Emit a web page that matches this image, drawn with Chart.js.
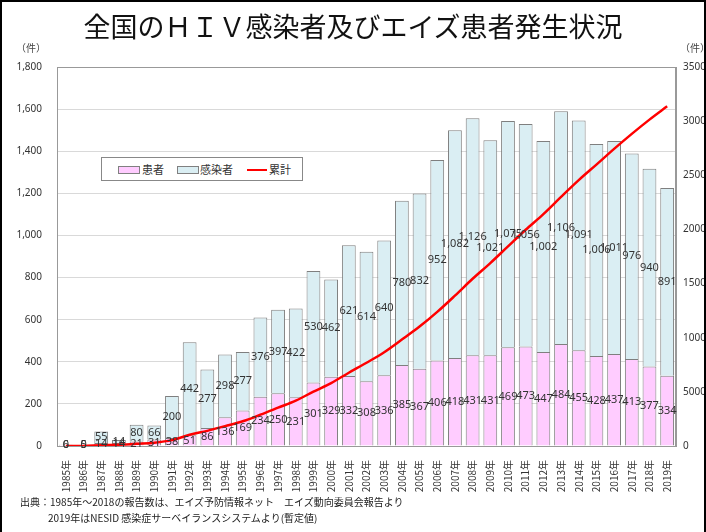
<!DOCTYPE html>
<html>
<head>
<meta charset="utf-8">
<script src="https://cdn.jsdelivr.net/npm/chart.js@4/dist/chart.umd.min.js"></script>
<style>
body { margin: 0; background: #fff; font-family: "Noto Sans CJK JP", sans-serif; }
#wrap { position: relative; width: 706px; height: 532px; overflow: hidden; }
#frame { position: absolute; left: 0; top: 0; width: 706px; height: 560px; box-sizing: border-box; border: 2px solid #000; pointer-events: none; }
canvas { position: absolute; left: 0; top: 0; }
#title { position: absolute; left: 0; top: 8px; width: 706px; text-align: center; font-size: 27px; line-height: 36px; color: #111; }
.unit { position: absolute; top: 40px; font-size: 10px; color: #444; }
#legend { position: absolute; left: 101px; top: 157px; width: 200px; height: 22px; border: 1px solid #888; background: #fff; font-size: 11px; color: #333; }
#legend span { position: absolute; top: 3px; line-height: 16px; }
.sw { position: absolute; top: 8px; width: 20px; height: 6px; border: 1px solid #808080; }
#note { position: absolute; left: 20px; top: 494px; font-size: 10px; line-height: 16px; color: #222; }
</style>
</head>
<body>
<div id="wrap">
  <canvas id="chart" width="706" height="532"></canvas>
  <div id="title">全国のＨＩＶ感染者及びエイズ患者発生状況</div>
  <div class="unit" style="left:16px">（件）</div>
  <div class="unit" style="left:680px">（件）</div>
  <div id="legend">
    <div class="sw" style="left:16px;background:#ffccff"></div><span style="left:40px">患者</span>
    <div class="sw" style="left:75px;background:#daeef3"></div><span style="left:98px">感染者</span>
    <div style="position:absolute;left:145px;top:11px;width:20px;height:2px;background:#ff0000"></div><span style="left:167px">累計</span>
  </div>
  <div id="note">出典：1985年～2018の報告数は、エイズ予防情報ネット　エイズ動向委員会報告より<br><span style="padding-left:28px">2019年はNESID 感染症サーベイランスシステムより(暫定値)</span></div>
  <div id="frame"></div>
</div>
<script>
var years = ['1985年', '1986年', '1987年', '1988年', '1989年', '1990年', '1991年', '1992年', '1993年', '1994年',
  '1995年', '1996年', '1997年', '1998年', '1999年', '2000年', '2001年', '2002年', '2003年', '2004年',
  '2005年', '2006年', '2007年', '2008年', '2009年', '2010年', '2011年', '2012年', '2013年', '2014年',
  '2015年', '2016年', '2017年', '2018年', '2019年'];
// 患者
var patients = [6, 5, 14, 14, 21, 31, 38, 51, 86, 136, 169, 234, 250, 231, 301, 329, 332, 308, 336, 385,
  367, 406, 418, 431, 431, 469, 473, 447, 484, 455, 428, 437, 413, 377, 334];
// 感染者
var infected = [0, 0, 55, 14, 80, 66, 200, 442, 277, 298, 277, 376, 397, 422, 530, 462, 621, 614, 640, 780,
  832, 952, 1082, 1126, 1021, 1075, 1056, 1002, 1106, 1091, 1006, 1011, 976, 940, 891];
// 累計
var cumulative = [6, 11, 80, 108, 209, 306, 544, 1037, 1400, 1834, 2280, 2890, 3537, 4190, 5021, 5812, 6765,
  7687, 8663, 9828, 11027, 12385, 13885, 15442, 16894, 18438, 19967, 21416, 23006, 24552, 25986, 27434,
  28823, 30140, 31365];
var leftTicks = [0, 1800, 200];
var rightTicks = [0, 35000, 5000];

var frameBox = {
  id: 'frameBox',
  beforeDatasetsDraw: function (chart) {
    var a = chart.chartArea, ctx = chart.ctx;
    ctx.save();
    ctx.strokeStyle = '#999';
    ctx.lineWidth = 1;
    ctx.strokeRect(a.left + 0.5, a.top + 0.5, a.right - a.left - 1, a.bottom - a.top);
    ctx.restore();
  }
};

var barLabels = {
  id: 'barLabels',
  afterDatasetsDraw: function (chart) {
    var ctx = chart.ctx;
    ctx.save();
    ctx.font = '11px "Noto Sans", sans-serif';
    ctx.fillStyle = '#333';
    ctx.textAlign = 'center';
    ctx.textBaseline = 'middle';
    [0, 1].forEach(function (i) {
      chart.getDatasetMeta(i).data.forEach(function (bar, j) {
        var v = chart.data.datasets[i].data[j];
        ctx.fillText(v.toLocaleString('en-US'), bar.x, (bar.y + bar.base) / 2);
      });
    });
    ctx.restore();
  }
};

new Chart(document.getElementById('chart'), {
  type: 'bar',
  data: {
    labels: years,
    datasets: [{
      label: '患者',
      data: patients,
      backgroundColor: '#ffccff',
      borderColor: '#7f7f7f',
      borderWidth: 1,
      barPercentage: 0.78,
      categoryPercentage: 1,
      order: 1
    }, {
      label: '感染者',
      data: infected,
      backgroundColor: '#daeef3',
      borderColor: '#7f7f7f',
      borderWidth: 1,
      barPercentage: 0.78,
      categoryPercentage: 1,
      order: 1
    }, {
      type: 'line',
      label: '累計',
      data: cumulative,
      yAxisID: 'y2',
      borderColor: '#ff0000',
      borderWidth: 2.5,
      pointRadius: 0,
      tension: 0.4,
      cubicInterpolationMode: 'monotone',
      order: 0
    }]
  },
  options: {
    responsive: false,
    animation: false,
    locale: 'en-US',
    layout: { padding: { top: 67, left: 0, right: 0, bottom: 0 } },
    plugins: { legend: { display: false }, tooltip: { enabled: false } },
    scales: {
      x: {
        stacked: true,
        grid: { display: false },
        border: { color: '#808080' },
        ticks: {
          autoSkip: false, maxRotation: 90, minRotation: 90, padding: 6,
          font: { size: 10, family: '"Noto Sans CJK JP"' }, color: '#333'
        },
        afterFit: function (s) { s.height = 86; }
      },
      y: {
        stacked: true,
        min: leftTicks[0], max: leftTicks[1],
        grid: { color: '#d9d9d9', drawTicks: false },
        border: { color: '#999' },
        ticks: { stepSize: leftTicks[2], padding: 15, font: { size: 10, family: '"Noto Sans"' }, color: '#333' },
        afterFit: function (s) { s.width = 57; }
      },
      y2: {
        position: 'right',
        min: rightTicks[0], max: rightTicks[1],
        grid: { display: false, drawTicks: false },
        border: { color: '#999' },
        ticks: {
          stepSize: rightTicks[2], padding: 7, font: { size: 10, family: '"Noto Sans"' }, color: '#333',
          callback: function (v) { return String(v); }
        },
        afterFit: function (s) { s.width = 30; }
      }
    }
  },
  plugins: [frameBox, barLabels]
});
</script>
</body>
</html>
